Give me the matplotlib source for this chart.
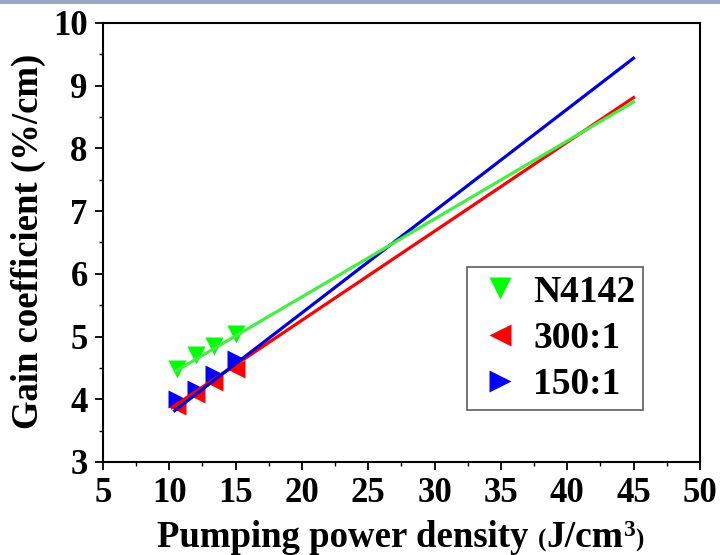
import numpy as np
import matplotlib
matplotlib.use('Agg')
import matplotlib.pyplot as plt
from matplotlib.patches import Rectangle
from matplotlib.ticker import MultipleLocator

plt.rcParams['font.family'] = ['Liberation Serif', 'DejaVu Serif']
plt.rcParams['font.weight'] = 'bold'

# measured gain points
density = [10.6, 12.0, 13.4, 15.0]
gain_n4142 = [4.48, 4.71, 4.85, 5.04]
gain_300 = [3.90, 4.08, 4.28, 4.48]
gain_150 = [4.00, 4.17, 4.40, 4.65]

# linear fits (slope, intercept) and their x range
fit_n4142 = [0.1243, 3.146]
fit_300 = [0.1420, 2.420]
fit_150 = [0.1624, 2.130]
fit_start = [10.5, 10.2, 10.4]
fit_end = 45

labels = ['N4142', '300:1', '150:1']

fig = plt.figure(figsize=(7.2, 5.55), dpi=100)
fig.add_artist(Rectangle((0, 0.993), 1, 0.007, transform=fig.transFigure,
                         color='#97a8c2', lw=0))
ax = fig.add_axes([0.143, 0.1676, 0.829, 0.791])

# fit lines
for (k, b), x0, c in zip([fit_300, fit_150], fit_start[1:], ['#ff0000', '#0000dd']):
    xx = np.array([x0, fit_end])
    ax.plot(xx, k * xx + b, color=c, lw=2.3, zorder=3)

h1, = ax.plot(density, gain_n4142, 'v', color='#00ff00', ms=13.5, mec='none', zorder=2)
h2, = ax.plot(density, gain_300, '<', color='#ff0000', ms=13.5, mec='none', zorder=2)
h3, = ax.plot(density, gain_150, '>', color='#0000ff', ms=13.5, mec='none', zorder=2)
xx = np.array([fit_start[0], fit_end])
ax.plot(xx, fit_n4142[0] * xx + fit_n4142[1], color='#44ee44', lw=2.3, zorder=4)

ax.set_xlim(5, 50)
ax.set_ylim(3, 10)
ax.xaxis.set_major_locator(MultipleLocator(5))
ax.xaxis.set_minor_locator(MultipleLocator(2.5))
ax.yaxis.set_major_locator(MultipleLocator(1))
ax.yaxis.set_minor_locator(MultipleLocator(0.5))
ax.tick_params(which='major', direction='out', length=6, width=1.3,
               labelsize=25, pad=5)
ax.tick_params(which='minor', direction='out', length=3, width=1.0)
ax.tick_params(top=False, right=False)
for lab in ax.get_xticklabels() + ax.get_yticklabels():
    lab.set_fontweight('bold')
for s in ax.spines.values():
    s.set_linewidth(1.5)

fig.text(0.039, 0.565, 'Gain coefficient (%/cm)', fontsize=26.5, fontweight='bold',
         rotation=90, ha='center', va='center')

# x label built from pieces: small parentheses and a raised 3
pieces = [('Pumping power density ', 26.5, 0), ('(', 18, 0), ('J/cm', 27, 0),
          ('3', 17, 11), (')', 18, 0)]
fig.canvas.draw()
renderer = fig.canvas.get_renderer()
x_px = 157
base_px = 547
for s, size, rise in pieces:
    t = fig.text(x_px / 720, 1 - (base_px - rise) / 555, s, fontsize=size,
                 fontweight='bold', ha='left', va='baseline')
    x_px = t.get_window_extent(renderer).x1

leg = ax.legend([h1, h2, h3], labels, loc='upper left',
                bbox_to_anchor=(0.61, 0.444), fontsize=27, frameon=True,
                fancybox=False, edgecolor='#333333', handletextpad=0.2,
                handlelength=1.36, borderpad=0.2, borderaxespad=0,
                labelspacing=0.3, markerscale=1.15)
leg.get_frame().set_linewidth(1.2)
for t in leg.get_texts():
    t.set_fontweight('bold')

fig.savefig('out.png', dpi=100)
